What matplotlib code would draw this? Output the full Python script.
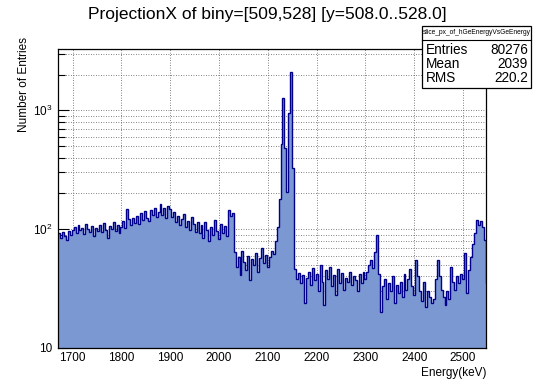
import numpy as np
import matplotlib
matplotlib.use("Agg")
import matplotlib.pyplot as plt
import matplotlib.ticker as ticker
from matplotlib.patches import Rectangle

plt.rcParams['font.family'] = ['Liberation Sans', 'DejaVu Sans']
plt.rcParams['mathtext.default'] = 'regular'

# energy spectrum, 4 keV bins starting at 1670 keV
bin_width = 4
e_start = 1670
low_cont = [92, 84, 95, 88, 81, 97, 90, 99, 104, 93, 108, 98, 103, 91, 110, 100, 95, 106, 88, 102, 97, 109,
            95, 112, 99, 84, 106, 101, 115, 97, 109, 93, 104, 118, 102]
hump = [147, 121, 108, 124, 113,
        128, 110, 136, 119, 142, 125, 117, 146, 131, 152, 126, 140,
        162, 131, 150, 124, 158,
        148, 127, 139, 115, 130, 108, 122, 135, 104, 118, 99, 126, 110, 95, 114,
        92, 108, 84, 115, 98, 79, 104, 89, 120, 96, 83, 110, 93, 106, 88,
        145, 128, 137]
after_edge = [64, 48, 58, 41, 66, 53, 45, 60, 37, 56, 50, 63, 44, 57, 70, 52, 61, 48,
              58, 66, 62, 80, 104]
doublet = [180, 520, 1260, 480, 205, 950, 2090, 330]
high_cont = [46, 38, 43, 35, 41, 24, 39, 44, 34, 47, 37, 42,
             30, 50, 36, 23, 45, 38, 48, 33, 41, 28, 46, 35, 43, 31, 39, 36, 44, 34, 40, 37, 30, 42, 35, 44,
             38, 44, 50, 55, 47, 64, 89, 42,
             20, 33, 38, 26, 35, 30, 40, 24, 34, 29,
             36, 27, 42, 31, 38, 46, 33, 28, 55, 40,
             30, 25, 36, 22, 30, 27, 24, 26, 38, 55]
tail = [40, 31, 27, 23, 30, 26, 48, 36, 31, 40, 35, 42, 38, 63, 29, 45, 58, 75, 93, 119, 108, 116, 104, 81, 35]

counts = np.array(low_cont + hump + after_edge + doublet + high_cont + tail, dtype=float)
edges = e_start + bin_width * np.arange(len(counts) + 1)

stats_name = "slice_px_of_hGeEnergyVsGeEnergy"
stats_rows = [("Entries", "80276"), ("Mean", "2039"), ("RMS", "220.2")]

fig = plt.figure(figsize=(5.35, 3.79), dpi=100)
ax = fig.add_axes([58 / 535, 31 / 379, 428 / 535, 299 / 379])

ax.stairs(counts, edges, baseline=1, fill=True, color='#7b98d2', zorder=2)
ax.stairs(counts, edges, baseline=None, color='#00008a', lw=1.0, zorder=3)

ax.set_yscale('log')
ax.set_ylim(10, 3280)
ax.set_xlim(1670, 2547)

ax.xaxis.set_major_locator(ticker.MultipleLocator(100))
ax.xaxis.set_minor_locator(ticker.MultipleLocator(20))
ax.yaxis.set_major_locator(ticker.LogLocator(base=10))
ax.yaxis.set_minor_locator(ticker.LogLocator(base=10, subs=np.arange(2, 10)))
ax.yaxis.set_minor_formatter(ticker.NullFormatter())
ax.yaxis.set_major_formatter(ticker.FuncFormatter(
    lambda v, p: '10' if abs(v - 10) < 1e-6 else '$10^{%d}$' % round(np.log10(v))))

ax.tick_params(which='both', direction='in', top=False, right=False, labelsize=8.5, width=0.8)
ax.tick_params(axis='x', which='major', length=5.5, pad=3)
ax.tick_params(axis='x', which='minor', length=3)
ax.tick_params(axis='y', which='major', length=8, pad=4)
ax.tick_params(axis='y', which='minor', length=5)

ax.set_axisbelow(True)
ax.grid(True, axis='x', which='major', color='0.35', ls=(0, (1, 2)), lw=0.6, zorder=0)
ax.grid(True, axis='y', which='both', color='0.35', ls=(0, (1, 2)), lw=0.6, zorder=0)
for s in ax.spines.values():
    s.set_linewidth(0.9)
    s.set_zorder(4)

fig.text(0.5, 1 - 14 / 379, "ProjectionX of biny=[509,528] [y=508.0..528.0]", ha='center', va='center',
         fontsize=12.5)
fig.text(24 / 535, 1 - 37 / 379, "Number of Entries", rotation=90, ha='center', va='top', fontsize=8.5)
fig.text(486 / 535, 1 - 373 / 379, "Energy(keV)", ha='right', va='center', fontsize=8.5)

# statistics box
bx0, bx1, by0, by1, bsep = 422, 531, 26, 88, 40
fig.patches.append(Rectangle((bx0 / 535, 1 - by1 / 379), (bx1 - bx0) / 535, (by1 - by0) / 379,
                             transform=fig.transFigure, facecolor='white', edgecolor='black', lw=0.9, zorder=5))
fig.lines.append(plt.Line2D([bx0 / 535, bx1 / 535], [1 - bsep / 379] * 2, transform=fig.transFigure,
                            color='black', lw=0.8, zorder=6))
fig.text((bx0 + bx1) / 2 / 535, 1 - 33 / 379, stats_name, ha='center', va='center', fontsize=4.8, zorder=7)
for i, (k, v) in enumerate(stats_rows):
    yy = 1 - (49.5 + 14 * i) / 379
    fig.text(426 / 535, yy, k, ha='left', va='center', fontsize=9.8, zorder=7)
    fig.text(528 / 535, yy, v, ha='right', va='center', fontsize=9.8, zorder=7)

fig.savefig("out.png", dpi=100)
